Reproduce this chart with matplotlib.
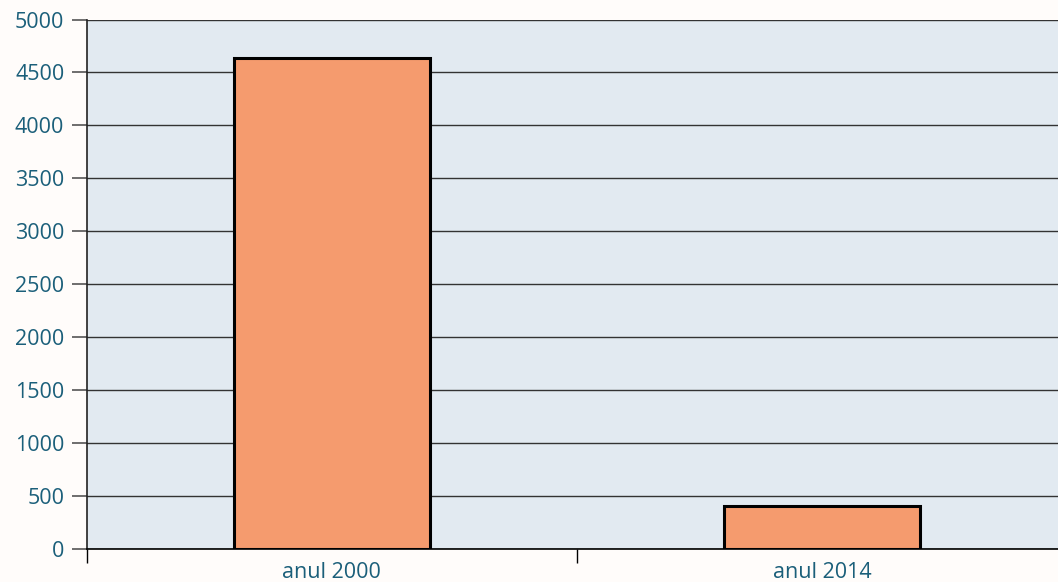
import numpy as np
import matplotlib.pyplot as plt

# data
categories = ['anul 2000', 'anul 2014']
values = [4640, 405]
yticks = [0, 500, 1000, 1500, 2000, 2500, 3000, 3500, 4000, 4500, 5000]

plt.rcParams['font.family'] = ['Open Sans', 'DejaVu Sans']
label_col = '#1b5f7a'

fig = plt.figure(figsize=(10.58, 5.82), dpi=100, facecolor='#fffcfa')
W, H = 1058.0, 582.0
# axes run a bit past the right edge, like the original crop
ax = fig.add_axes([86.5/W, 33/H, 981/W, 529.5/H])
ax.set_facecolor('#e2eaf1')

x = np.arange(len(categories))
ax.bar(x, values, width=0.4, color='#f59b6e', edgecolor='black', linewidth=2.2, zorder=3)

ax.set_xlim(-0.5, 1.5)
ax.set_ylim(0, 5000)
ax.set_yticks(yticks)
ax.grid(axis='y', color='#333333', linewidth=1.0, zorder=1)
ax.set_axisbelow(True)

ax.set_xticks(x)
ax.set_xticklabels(categories)
ax.set_xticks([-0.5, 0.5, 1.5], minor=True)
ax.tick_params(axis='x', which='major', length=0, pad=9, labelsize=15.5, labelcolor=label_col)
ax.tick_params(axis='x', which='minor', length=10, width=1, color='black')
ax.tick_params(axis='y', length=11, width=1.2, color='#555555', pad=5,
               labelsize=15.5, labelcolor=label_col)

for s in ['top', 'right']:
    ax.spines[s].set_visible(False)
ax.spines['left'].set_color('#222222')
ax.spines['left'].set_linewidth(1.2)
ax.spines['bottom'].set_color('black')
ax.spines['bottom'].set_linewidth(1.2)

fig.savefig('out.png', dpi=100, facecolor=fig.get_facecolor())
